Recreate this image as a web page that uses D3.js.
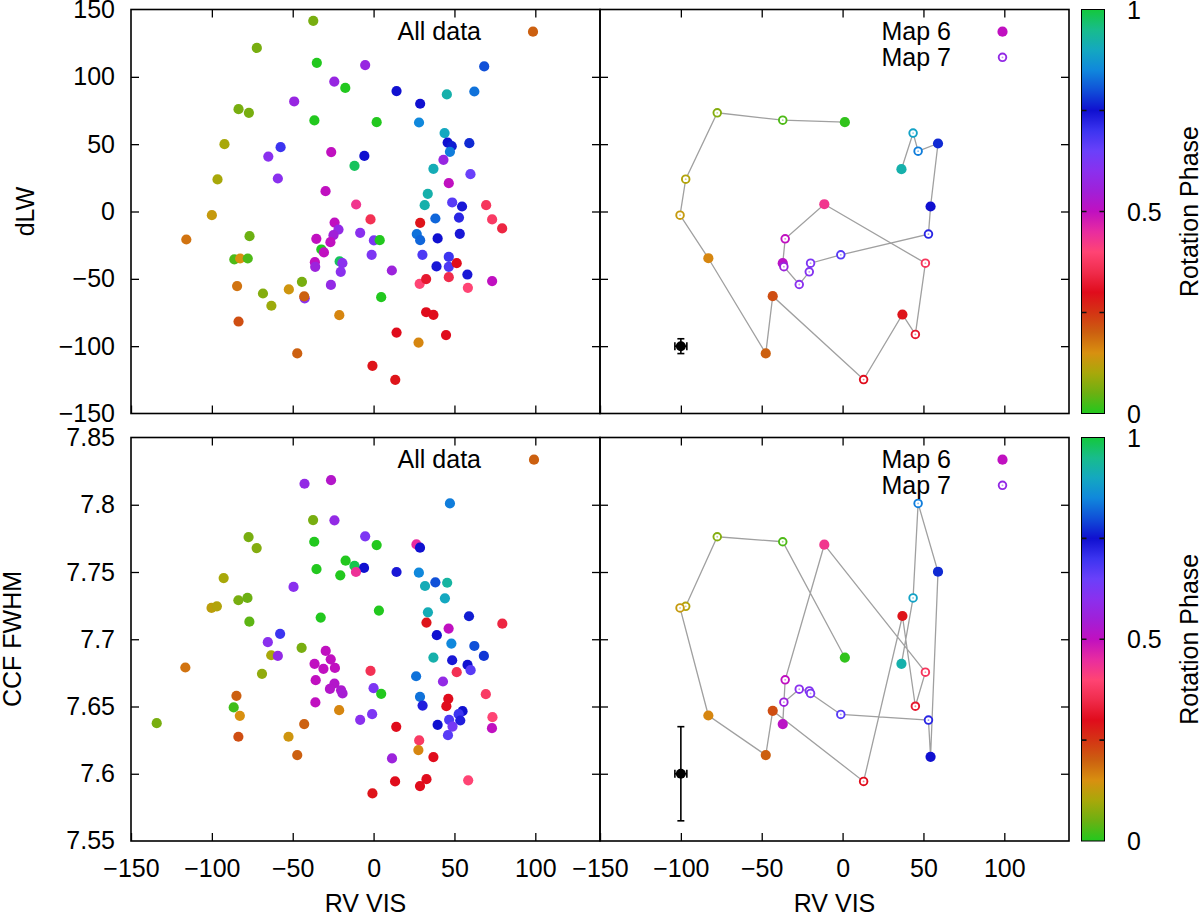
<!DOCTYPE html>
<html>
<head>
<meta charset="utf-8">
<script src="https://cdn.jsdelivr.net/npm/d3@7"></script>
<style>
  body { margin: 0; background: #fff; }
  text { font-family: "Liberation Sans", Arial, sans-serif; font-size: 25px; fill: #000; }
</style>
</head>
<body>
<div id="chart-container"></div>
<script>
// all observations: [RV VIS, dLW, rotation phase]
const dlwPoints = [
  [-37.3,141.6,0.06],[-72.2,121.5,0.06],[-35.1,110.4,0.0],[-5.2,108.7,0.57],[68.4,107.7,0.8],
  [-24.3,96.5,0.57],[-17.5,91.8,0.0],[14.2,89.4,0.75],[62.3,89.1,0.83],[45.3,86.9,0.92],
  [-49.1,81.7,0.57],[28.8,80,0.75],[-83.5,76,0.06],[-77.1,73.3,0.06],[-36.6,67.6,0.0],
  [1.9,66.3,0.0],[28.1,66.1,0.85],[43.9,58.2,0.9],[-92.2,50,0.1],[59.2,50.7,0.77],
  [45.8,51.2,0.75],[48.3,48.5,0.76],[47.2,44.3,0.84],[-57.5,47.8,0.7],[-65.1,40.8,0.6],
  [-26.2,44.1,0.5],[-5.7,41.3,0.75],[-11.8,33.9,0.98],[43.2,38.4,0.57],[37,31.7,0.91],
  [-96.5,23.8,0.1],[-59.2,24.5,0.6],[59.9,27.7,0.65],[-29.7,15.1,0.5],[46.5,21,0.5],
  [33.5,13.1,0.92],[-10.8,5.2,0.43],[31.6,4.7,0.92],[48.6,6.7,0.67],[54.7,3.7,0.74],
  [69.6,4.7,0.37],[-100,-2.7,0.13],[-1.9,-5.9,0.36],[28.8,-8.4,0.29],[38.2,-5.2,0.82],
  [52.8,-4.5,0.72],[73.3,-5.9,0.38],[79.5,-12.6,0.34],[-24.1,-8.2,0.5],[-115.8,-20.8,0.18],
  [-76.7,-18.3,0.05],[-35.4,-20.3,0.5],[-21.7,-13.4,0.58],[-24.8,-17.6,0.55],[-26.7,-22.8,0.5],
  [-8.3,-15.8,0.6],[0.2,-21.5,0.62],[3.8,-21.3,0.0],[26.7,-16.8,0.83],[28.8,-21.3,0.82],
  [39.6,-20,0.75],[53.3,-16.6,0.74],[-32.3,-28.2,0.0],[-30.7,-30.4,0.5],[-86.1,-35.6,0.03],
  [-82.5,-34.9,0.15],[-77.8,-34.9,0.03],[-36.3,-37.6,0.5],[-36.1,-41.1,0.56],[-21,-37.1,0.98],
  [-19.3,-38.4,0.6],[-20.3,-44.8,0.6],[-1.2,-32.2,0.62],[30.2,-32.2,0.68],[38.9,-40.8,0.74],
  [46.5,-33.7,0.7],[46.5,-41.1,0.68],[51.4,-38.4,0.3],[11.3,-43.8,0.56],[28.5,-53.7,0.4],
  [32.5,-50.2,0.32],[46.5,-48.8,0.35],[58,-46.8,0.74],[73.3,-51.7,0.5],[58.3,-56.7,0.4],
  [-84.4,-55.4,0.18],[-44.3,-52.2,0.06],[-26.4,-54.5,0.58],[-52.4,-57.9,0.14],[-68.4,-60.9,0.07],
  [-42.6,-64.5,0.6],[-42.9,-63.1,0.2],[4.7,-63.6,0.0],[-63.2,-70,0.09],[-83.5,-81.7,0.22],
  [-21.2,-77,0.16],[32.5,-74.8,0.3],[37,-76.7,0.3],[14.2,-89.9,0.3],[44.8,-91.8,0.3],
  [27.8,-97.3,0.16],[-47.2,-105.4,0.2],[-0.7,-114.6,0.29],[13.4,-125,0.29]
];

// all observations: [RV VIS, CCF FWHM, rotation phase]
const fwhmPoints = [
  [-42.7,7.8156,0.58],[-26.3,7.8183,0.52],[47.2,7.801,0.84],[-37.4,7.7886,0.06],[-24.2,7.7884,0.58],
  [-77.3,7.776,0.06],[-72.3,7.7678,0.07],[-36.7,7.7725,0.0],[-5.2,7.7765,0.62],[1.9,7.77,0.0],
  [26.5,7.7705,0.45],[28.7,7.7681,0.75],[-17.3,7.7584,0.0],[-11.8,7.7545,0.99],[-5.9,7.753,0.75],
  [-10.9,7.75,0.44],[-35.3,7.7522,0.0],[-20.6,7.7475,0.0],[14.2,7.75,0.74],[28,7.7495,0.85],
  [-92.7,7.7455,0.1],[38.2,7.7423,0.8],[45.5,7.742,0.93],[31.8,7.7396,0.91],[-49.5,7.7389,0.6],
  [-83.6,7.729,0.06],[-78,7.7307,0.05],[-100.2,7.7233,0.12],[-96.9,7.7245,0.11],[44.1,7.7304,0.9],
  [3.3,7.7213,0.0],[33.6,7.72,0.91],[-32.7,7.7161,0.0],[-76.8,7.7131,0.04],[32.7,7.7124,0.29],
  [59,7.7171,0.76],[79.6,7.7116,0.34],[46.4,7.7079,0.5],[-57.8,7.704,0.7],[39.1,7.703,0.75],
  [-65.4,7.6978,0.6],[48.1,7.6968,0.85],[62.3,7.695,0.8],[-44.5,7.6936,0.06],[-63.3,7.6881,0.1],
  [-59.2,7.6876,0.58],[-29.6,7.6913,0.5],[-26.5,7.6851,0.5],[37,7.6864,0.92],[68.2,7.6876,0.78],
  [48.6,7.6844,0.74],[58.1,7.6809,0.75],[60,7.677,0.67],[-36.5,7.6817,0.5],[-31,7.678,0.5],
  [-23.9,7.6787,0.5],[-116.4,7.679,0.18],[-69,7.6743,0.08],[-1.9,7.6765,0.36],[51.4,7.6755,0.36],
  [26.3,7.6725,0.83],[-35.8,7.6696,0.5],[-24.2,7.6671,0.52],[42.9,7.6686,0.58],[-27,7.6631,0.52],
  [-20.1,7.6621,0.53],[-19.2,7.6597,0.54],[0,7.6636,0.62],[4.7,7.6594,0.0],[28.7,7.6572,0.83],
  [46.2,7.6557,0.3],[69.4,7.6592,0.38],[-84.8,7.6579,0.2],[-86.5,7.6493,0.02],[-82.7,7.6431,0.15],
  [-36,7.653,0.5],[30.3,7.6507,0.73],[45,7.6502,0.3],[55,7.6465,0.75],[52.6,7.6443,0.7],
  [46.7,7.6401,0.68],[53.6,7.6396,0.73],[48.8,7.6351,0.63],[39.6,7.6364,0.75],[46,7.6287,0.67],
  [73.5,7.6421,0.4],[73.2,7.6339,0.5],[-21.3,7.6473,0.16],[-8.3,7.6401,0.6],[-0.9,7.6443,0.62],
  [14,7.6349,0.3],[-134.1,7.6376,0.06],[-83.6,7.6275,0.22],[-42.9,7.6369,0.2],[-52.6,7.6275,0.14],
  [-47.2,7.6139,0.2],[28.2,7.6248,0.38],[27.7,7.6176,0.16],[37,7.6124,0.3],[11.4,7.6114,0.56],
  [13.3,7.5943,0.3],[28.7,7.5908,0.3],[32.7,7.596,0.3],[58.5,7.5951,0.4],[-0.7,7.5854,0.29]
];

// Map 6 / Map 7 observations in the order they are joined: [RV VIS, dLW, CCF FWHM, phase, map]
const mapSequence = [
  [1.4,66.3,7.6864,0.01,6],[-37,67.8,7.7725,0.03,7],[-77.5,73.3,7.7762,0.07,7],
  [-97,24,7.7245,0.11,7],[-100.5,-2.7,7.7233,0.13,7],[-83,-34.7,7.6433,0.16,6],
  [-47.5,-105.4,7.6139,0.2,6],[-43.2,-62.9,7.6468,0.22,6],[13,-124.8,7.5943,0.3,7],
  [37,-76.5,7.7173,0.29,6],[45,-91.3,7.6502,0.32,7],[51.2,-38.4,7.6755,0.37,7],
  [-11.3,5.4,7.7703,0.43,6],[-35.5,-20.3,7.6698,0.5,7],[-37,-38.4,7.6369,0.51,6],
  [-36.3,-41,7.6532,0.56,7],[-26.8,-54.2,7.6629,0.6,7],[-20.6,-44.8,7.6616,0.61,7],
  [-19.8,-38.4,7.6597,0.62,7],[-1.1,-32.2,7.6441,0.67,7],[53.1,-16.8,7.6399,0.72,7],
  [54.4,3.7,7.6126,0.75,6],[59,50.5,7.7502,0.77,6],[46.7,44.8,7.801,0.84,7],
  [43.6,58.2,7.7307,0.89,7],[36.4,31.4,7.6817,0.92,6]
];

// typical error bar: [RV, value, RV error, value error]
const dlwError = [-100, -100, 3.7, 5.5];
const fwhmError = [-100, 7.6, 3.7, 0.035];

const xTicks = [-150, -100, -50, 0, 50, 100];
const dlwTicks = [-150, -100, -50, 0, 50, 100, 150];
const fwhmTicks = [7.55, 7.6, 7.65, 7.7, 7.75, 7.8, 7.85];
const phaseTicks = [0, 0.5, 1];

const phaseStops = [0, 0.05, 0.1, 0.15, 0.2, 0.25, 0.3, 0.35, 0.4, 0.45, 0.5,
                    0.55, 0.6, 0.65, 0.7, 0.75, 0.8, 0.85, 0.9, 0.95, 1];
const phaseColors = ["#22c81e", "#6cb012", "#a8a80a", "#d89010", "#cc6010", "#d43414",
                     "#e00c1c", "#f02c4c", "#ff4474", "#e82ca0", "#c010c0", "#a020d8",
                     "#8a30ee", "#6a40fa", "#3c34f0", "#1010d0", "#1050d8", "#1088dc",
                     "#14a8c0", "#18bc8c", "#14c83c"];

const colour = d3.scaleLinear().domain(phaseStops).range(phaseColors).clamp(true);

const svg = d3.select("#chart-container").append("svg")
  .attr("width", 1200)
  .attr("height", 915);

const leftX = d3.scaleLinear().domain([-150, 140]).range([131, 600]);
const rightX = d3.scaleLinear().domain([-150, 140]).range([600, 1069]);
const dlwY = d3.scaleLinear().domain([-150, 150]).range([413.5, 9.5]);
const fwhmY = d3.scaleLinear().domain([7.55, 7.85]).range([841, 437.5]);

const fmtX = d3.format("d");
const fmtFwhm = d => String(+d.toFixed(2));

function frame(x, y, yTicks, yFmt, showX) {
  let g = svg.append("g");
  let [x0, x1] = x.range();
  let [y1, y0] = y.range();

  g.append("g")
    .attr("transform", "translate(0," + y1 + ")")
    .call(d3.axisBottom(x).tickValues(xTicks).tickSize(-8).tickSizeOuter(0)
      .tickPadding(18).tickFormat(showX ? fmtX : ""));
  g.append("g")
    .attr("transform", "translate(0," + y0 + ")")
    .call(d3.axisTop(x).tickValues(xTicks.slice(1)).tickSize(-8).tickSizeOuter(0).tickFormat(""));
  g.append("g")
    .attr("transform", "translate(" + x0 + ",0)")
    .call(d3.axisLeft(y).tickValues(yTicks.slice(1, -1)).tickSize(-8).tickSizeOuter(0)
      .tickPadding(16).tickFormat(yFmt ? yFmt : ""));
  g.append("g")
    .attr("transform", "translate(" + x1 + ",0)")
    .call(d3.axisRight(y).tickValues(yTicks.slice(1, -1)).tickSize(-8).tickSizeOuter(0).tickFormat(""));

  g.selectAll(".domain").remove();
  g.selectAll(".tick line").attr("stroke", "#000").attr("stroke-width", 1.3);
  g.selectAll(".tick text").style("font-size", "25px").attr("fill", "#000");

  // end labels that sit on the frame corners
  if (yFmt) {
    g.append("g").selectAll("text")
      .data([yTicks[0], yTicks[yTicks.length - 1]]).enter()
      .append("text")
      .attr("x", x0 - 16)
      .attr("y", d => y(d))
      .attr("dy", "0.32em")
      .attr("text-anchor", "end")
      .text(yFmt);
  }

  g.append("rect")
    .attr("x", x0).attr("y", y0)
    .attr("width", x1 - x0).attr("height", y1 - y0)
    .attr("fill", "none").attr("stroke", "#000").attr("stroke-width", 1.6);
  return g;
}

function allData(x, y, points) {
  svg.append("g").selectAll("circle")
    .data(points).enter()
    .append("circle")
    .attr("cx", d => x(d[0]))
    .attr("cy", d => y(d[1]))
    .attr("r", 5.1)
    .attr("fill", d => colour(d[2]));
}

function openMark(g, cx, cy, c) {
  g.append("circle").attr("cx", cx).attr("cy", cy).attr("r", 3.8)
    .attr("fill", "#fff").attr("stroke", c).attr("stroke-width", 1.9);
  g.append("circle").attr("cx", cx).attr("cy", cy).attr("r", 0.9)
    .attr("fill", c).attr("opacity", 0.5);
}

function sequence(x, y, col, err) {
  let g = svg.append("g");
  let line = d3.line().x(d => x(d[0])).y(d => y(d[col]));
  g.append("path")
    .datum(mapSequence)
    .attr("d", line)
    .attr("fill", "none")
    .attr("stroke", "#a0a0a0")
    .attr("stroke-width", 1.3);

  mapSequence.forEach(d => {
    if (d[4] == 6) {
      g.append("circle").attr("cx", x(d[0])).attr("cy", y(d[col]))
        .attr("r", 5.1).attr("fill", colour(d[3]));
    } else {
      openMark(g, x(d[0]), y(d[col]), colour(d[3]));
    }
  });

  // typical uncertainty
  let ex = x(err[0]), ey = y(err[1]);
  let eb = g.append("g").attr("stroke", "#000").attr("stroke-width", 1.6);
  eb.append("line").attr("x1", ex).attr("x2", ex)
    .attr("y1", y(err[1] - err[3])).attr("y2", y(err[1] + err[3]));
  eb.append("line").attr("x1", x(err[0] - err[2])).attr("x2", x(err[0] + err[2]))
    .attr("y1", ey).attr("y2", ey);
  [err[1] - err[3], err[1] + err[3]].forEach(v => {
    eb.append("line").attr("x1", ex - 3.5).attr("x2", ex + 3.5)
      .attr("y1", y(v)).attr("y2", y(v));
  });
  [err[0] - err[2], err[0] + err[2]].forEach(v => {
    eb.append("line").attr("x1", x(v)).attr("x2", x(v))
      .attr("y1", ey - 4).attr("y2", ey + 4);
  });
  g.append("circle").attr("cx", ex).attr("cy", ey).attr("r", 5).attr("fill", "#000");
}

function colourBar(y0, y1, id) {
  let cb = d3.scaleLinear().domain([0, 1]).range([y1, y0]);
  let grad = svg.append("defs").append("linearGradient")
    .attr("id", id)
    .attr("x1", 0).attr("x2", 0).attr("y1", 1).attr("y2", 0);
  grad.selectAll("stop")
    .data(phaseStops).enter()
    .append("stop")
    .attr("offset", d => d)
    .attr("stop-color", d => colour(d));

  let g = svg.append("g");
  g.append("rect")
    .attr("x", 1081.5).attr("y", y0)
    .attr("width", 23).attr("height", y1 - y0)
    .attr("fill", "url(#" + id + ")")
    .attr("stroke", "#000").attr("stroke-width", 1);

  g.selectAll(".cbtick")
    .data([0.25, 0.5, 0.75]).enter()
    .append("path")
    .attr("d", d => "M1081.5," + cb(d) + "h5M1104.5," + cb(d) + "h-5")
    .attr("stroke", "#111").attr("stroke-width", 1.6);

  g.selectAll(".cblab")
    .data(phaseTicks).enter()
    .append("text")
    .attr("x", 1127)
    .attr("y", d => cb(d))
    .attr("dy", "0.36em")
    .text(d => d);

  g.append("text")
    .attr("transform", "translate(1198," + ((y0 + y1) / 2) + ") rotate(-90)")
    .attr("text-anchor", "middle")
    .text("Rotation Phase");
}

function legendAll(x, y) {
  svg.append("text").attr("x", 481).attr("y", y).attr("dy", "0.35em")
    .attr("text-anchor", "end").text("All data");
  svg.append("circle").attr("cx", x).attr("cy", y).attr("r", 5.1).attr("fill", colour(0.2));
}

function legendMaps(y) {
  let g = svg.append("g");
  g.append("text").attr("x", 951).attr("y", y).attr("dy", "0.35em")
    .attr("text-anchor", "end").text("Map 6");
  g.append("circle").attr("cx", 1002.5).attr("cy", y).attr("r", 5.1).attr("fill", colour(0.5));
  g.append("text").attr("x", 951).attr("y", y + 25.6).attr("dy", "0.35em")
    .attr("text-anchor", "end").text("Map 7");
  openMark(g, 1002.5, y + 25.6, colour(0.58));
}

// top row: dLW
allData(leftX, dlwY, dlwPoints);
sequence(rightX, dlwY, 1, dlwError);
frame(leftX, dlwY, dlwTicks, fmtX, false);
frame(rightX, dlwY, dlwTicks, null, false);
colourBar(9.5, 413.5, "cbTop");
legendAll(533, 31.7);
legendMaps(31.7);

// bottom row: CCF FWHM
allData(leftX, fwhmY, fwhmPoints);
sequence(rightX, fwhmY, 2, fwhmError);
frame(leftX, fwhmY, fwhmTicks, fmtFwhm, true);
frame(rightX, fwhmY, fwhmTicks, null, true);
colourBar(437.5, 841, "cbBottom");
legendAll(534, 459.7);
legendMaps(459.7);

svg.append("text")
  .attr("transform", "translate(34,211.5) rotate(-90)")
  .attr("text-anchor", "middle")
  .text("dLW");
svg.append("text")
  .attr("transform", "translate(21,639) rotate(-90)")
  .attr("text-anchor", "middle")
  .text("CCF FWHM");

[leftX, rightX].forEach(x => {
  svg.append("text")
    .attr("x", (x.range()[0] + x.range()[1]) / 2)
    .attr("y", 912)
    .attr("text-anchor", "middle")
    .text("RV VIS");
});
</script>
</body>
</html>
